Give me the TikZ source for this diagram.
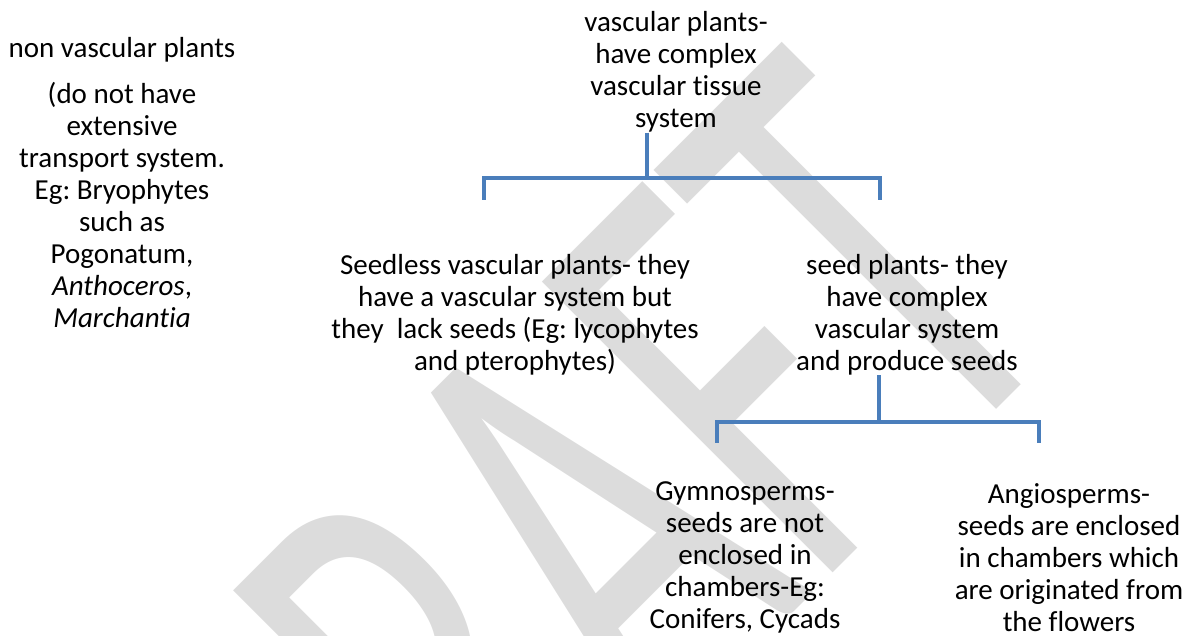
\documentclass[tikz,border=0pt]{standalone}
\usepackage{fontspec}
\setmainfont{Carlito}[Ligatures=NoCommon]
\usepackage{xcolor}
\usepackage{graphicx}
\usepackage{tikz}
\usetikzlibrary{positioning,calc}
\definecolor{ink}{HTML}{000000}
\definecolor{branch}{HTML}{4A7EBB}
\definecolor{stamp}{HTML}{DCDCDC}
\frenchspacing

\begin{document}
\begin{tikzpicture}[x=1pt,y=1pt,
      blurb/.style={align=center, inner sep=0pt, text=ink,
            font=\fontsize{29}{32}\selectfont},
      link/.style={draw=branch, line width=4pt}]
      \useasboundingbox (0,0) rectangle (1193,-635);
      \node[rotate=45, text=stamp, inner sep=0pt,
            font=\fontsize{641}{641}\selectfont] (draftmark) at (560,-555) {\scalebox{0.61}[1]{DRAFT}};

      \node[blurb] (nonvasc) at (122,-50) {non vascular plants};
      \node[blurb, below=19pt of nonvasc] (nvdetail) {(do not have\\ extensive\\ transport system.\\ Eg: Bryophytes\\ such as\\ Pogonatum,\\ \textit{Anthoceros},\\ \textit{Marchantia}};

      \node[blurb] (vasc) at (676,-72) {vascular plants-\\ have complex\\ vascular tissue\\ system};
      \node[blurb] (seedless) at (515,-314.5) {Seedless vascular plants- they\\ have a vascular system but\\ they\ \ lack seeds (Eg: lycophytes\\ and pterophytes)};
      \node[blurb] (seed) at (907,-314.5) {seed plants- they\\ have complex\\ vascular system\\ and produce seeds};
      \node[blurb] (gymno) at (745,-557.5) {Gymnosperms-\\ seeds are not\\ enclosed in\\ chambers-Eg:\\ Conifers, Cycads};
      \node[blurb] (angio) at (1069,-557.5) {Angiosperms-\\ seeds are enclosed\\ in chambers which\\ are originated from\\ the flowers};

      \coordinate (fork1) at (647,-178);
      \coordinate (seedlessend) at (484,-200);
      \coordinate (seedend) at (880,-200);
      \draw[link] (fork1 |- vasc.south) -- (fork1) -| (seedlessend);
      \draw[link] (fork1) -| (seedend);

      \coordinate (fork2) at (879,-422);
      \coordinate (gymnoend) at (717,-443);
      \coordinate (angioend) at (1039,-443);
      \draw[link] (fork2 |- seed.south) -- (fork2) -| (gymnoend);
      \draw[link] (fork2) -| (angioend);
    \end{tikzpicture}
\end{document}
